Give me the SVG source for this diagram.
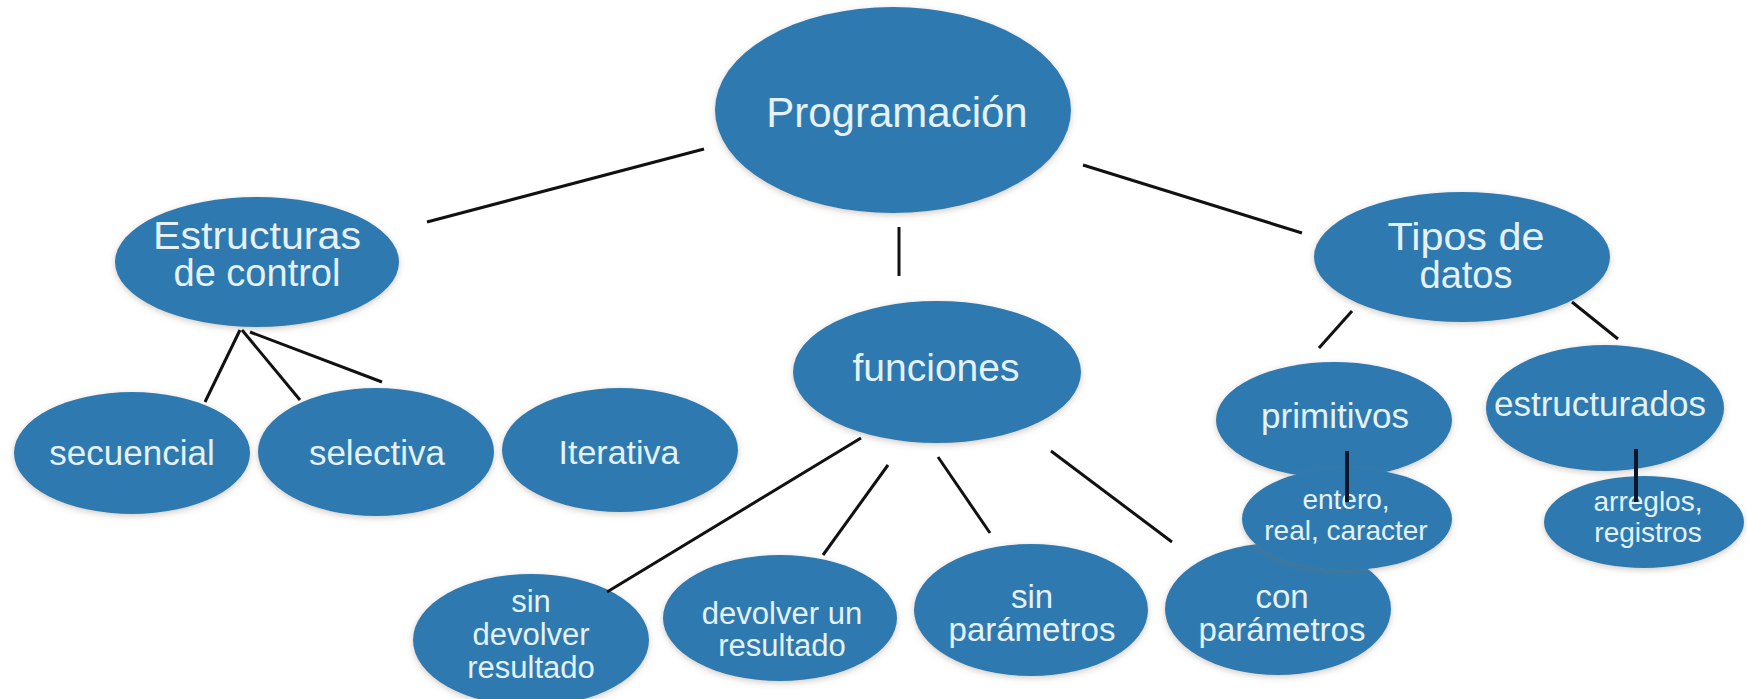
<svg xmlns="http://www.w3.org/2000/svg" width="1747" height="699" viewBox="0 0 1747 699">
<style>
  .n ellipse { fill: #2d7ab0; filter: url(#sh); }
  .n text { font-family: "Liberation Sans", Arial, sans-serif; fill: #e4f1f7; text-anchor: middle; }
  .c line { stroke: #111; stroke-width: 3; stroke-linecap: butt; }
  .c line.v { stroke: #0c1626; stroke-width: 4; }
</style>
<defs>
  <filter id="sh" x="-10%" y="-10%" width="120%" height="130%">
    <feGaussianBlur in="SourceAlpha" stdDeviation="3"/>
    <feOffset dy="2" result="b"/>
    <feFlood flood-color="#7a6a55" flood-opacity="0.35"/>
    <feComposite in2="b" operator="in"/>
    <feMerge><feMergeNode/><feMergeNode in="SourceGraphic"/></feMerge>
  </filter>
</defs>
<rect width="1747" height="699" fill="#ffffff"/>

<g id="programacion" class="n"><ellipse cx="893" cy="110" rx="178" ry="103"/><text x="897" y="127" font-size="42">Programación</text></g>
<g id="estructuras" class="n"><ellipse cx="257" cy="262" rx="142" ry="65"/><text x="257" y="249" font-size="38" textLength="208" lengthAdjust="spacingAndGlyphs">Estructuras</text><text x="257" y="286" font-size="38">de control</text></g>
<g id="tipos" class="n"><ellipse cx="1462" cy="257" rx="148" ry="65"/><text x="1466" y="250" font-size="38" textLength="157" lengthAdjust="spacingAndGlyphs">Tipos de</text><text x="1466" y="288" font-size="38">datos</text></g>
<g id="funciones" class="n"><ellipse cx="937" cy="372" rx="144" ry="71"/><text x="936" y="381" font-size="39">funciones</text></g>
<g id="secuencial" class="n"><ellipse cx="132" cy="453" rx="118" ry="61"/><text x="132" y="465" font-size="35">secuencial</text></g>
<g id="selectiva" class="n"><ellipse cx="376" cy="452" rx="118" ry="64"/><text x="377" y="465" font-size="35">selectiva</text></g>
<g id="iterativa" class="n"><ellipse cx="620" cy="450" rx="118" ry="62"/><text x="619" y="464" font-size="34">Iterativa</text></g>
<g id="primitivos" class="n"><ellipse cx="1334" cy="420" rx="118" ry="58"/><text x="1335" y="428" font-size="35">primitivos</text></g>
<g id="estructurados" class="n"><ellipse cx="1605" cy="408" rx="119" ry="63"/><text x="1600" y="416" font-size="35">estructurados</text></g>
<g id="sin-devolver" class="n"><ellipse cx="531" cy="640" rx="118" ry="66"/><text x="531" y="612" font-size="31">sin</text><text x="531" y="645" font-size="31">devolver</text><text x="531" y="678" font-size="31">resultado</text></g>
<g id="devolver-un" class="n"><ellipse cx="780" cy="618" rx="117" ry="63"/><text x="782" y="624" font-size="31">devolver un</text><text x="782" y="656" font-size="31">resultado</text></g>
<g id="sin-parametros" class="n"><ellipse cx="1031" cy="610" rx="117" ry="66"/><text x="1032" y="608" font-size="33">sin</text><text x="1032" y="641" font-size="33">parámetros</text></g>
<g id="con-parametros" class="n"><ellipse cx="1278" cy="609" rx="113" ry="66"/><text x="1282" y="608" font-size="33">con</text><text x="1282" y="641" font-size="33">parámetros</text></g>
<g id="entero" class="n"><ellipse cx="1347" cy="519" rx="105" ry="51"/><text x="1346" y="509" font-size="28">entero,</text><text x="1346" y="540" font-size="28">real, caracter</text></g>
<g id="arreglos" class="n"><ellipse cx="1644" cy="522" rx="100" ry="46"/><text x="1648" y="511" font-size="28">arreglos,</text><text x="1648" y="542" font-size="28">registros</text></g>

<g id="connectors" class="c">
  <line x1="704" y1="149" x2="427" y2="222"/>
  <line x1="1083" y1="165" x2="1302" y2="233"/>
  <line x1="899" y1="227" x2="899" y2="276"/>
  <line x1="240" y1="330" x2="205" y2="402"/>
  <line x1="242" y1="330" x2="300" y2="400"/>
  <line x1="250" y1="332" x2="382" y2="382"/>
  <line x1="1352" y1="311" x2="1319" y2="348"/>
  <line x1="1572" y1="302" x2="1618" y2="339"/>
  <line x1="861" y1="438" x2="607" y2="592"/>
  <line x1="888" y1="465" x2="823" y2="555"/>
  <line x1="938" y1="457" x2="990" y2="533"/>
  <line x1="1051" y1="451" x2="1172" y2="542"/>
  <line class="v" x1="1347" y1="451" x2="1347" y2="502"/>
  <line class="v" x1="1636" y1="449" x2="1636" y2="502"/>
</g>
</svg>
